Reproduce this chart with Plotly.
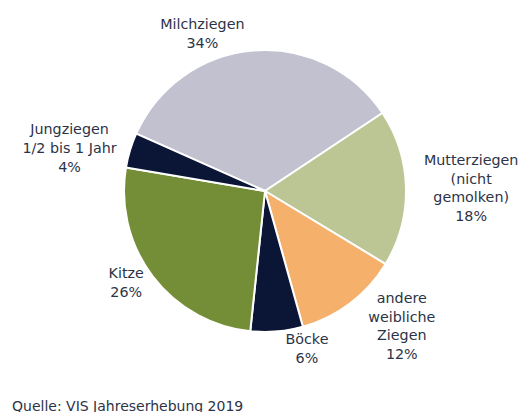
import plotly.graph_objects as go

labels = ["Milchziegen", "Mutterziegen<br>(nicht<br>gemolken)", "andere<br>weibliche<br>Ziegen",
          "Böcke", "Kitze", "Jungziegen<br>1/2 bis 1 Jahr"]
values = [34, 18, 12, 6, 26, 4]
colors = ["#c2c1d0", "#bcc594", "#f5b06c", "#0b1637", "#748e37", "#0b1637"]
source = "Quelle: VIS Jahreserhebung 2019"

font = dict(family="DejaVu Sans", size=14.3, color="#2d3347")
W, H = 526, 412
cx, cy, r = 257, 183, 141
domain = dict(x=[(cx - r) / W, (cx + r) / W], y=[(H - cy - r) / H, (H - cy + r) / H])
texts = [f"{l}<br>{v}%" for l, v in zip(labels, values)]
main_text = [t if l != "Böcke" else "" for t, l in zip(texts, labels)]
extra_text = [t if l == "Böcke" else "" for t, l in zip(texts, labels)]

fig = go.Figure()
fig.add_trace(go.Pie(
    labels=labels, values=values, sort=False, direction="clockwise", rotation=-66,
    marker=dict(colors=colors, line=dict(color="white", width=2)),
    text=main_text, textinfo="text", textposition="outside",
    textfont=font, hoverinfo="label+percent", showlegend=False, domain=domain,
))
fig.add_trace(go.Pie(
    labels=labels, values=values, sort=False, direction="clockwise", rotation=-66,
    marker=dict(colors=["rgba(0,0,0,0)"] * len(values), line=dict(width=0)),
    text=extra_text, textinfo="text", textposition="outside",
    textfont=font, hoverinfo="skip", showlegend=False, domain=domain,
))

fig.update_layout(
    width=W, height=H,
    margin=dict(l=0, r=0, t=0, b=0),
    paper_bgcolor="white", plot_bgcolor="white",
    title=dict(text=source, x=4 / W, xanchor="left", xref="container",
               y=(H - 398) / H, yanchor="middle", yref="container",
               font=dict(family="DejaVu Sans", size=14, color="#2d3347")),
)

fig.write_html("out.html")
